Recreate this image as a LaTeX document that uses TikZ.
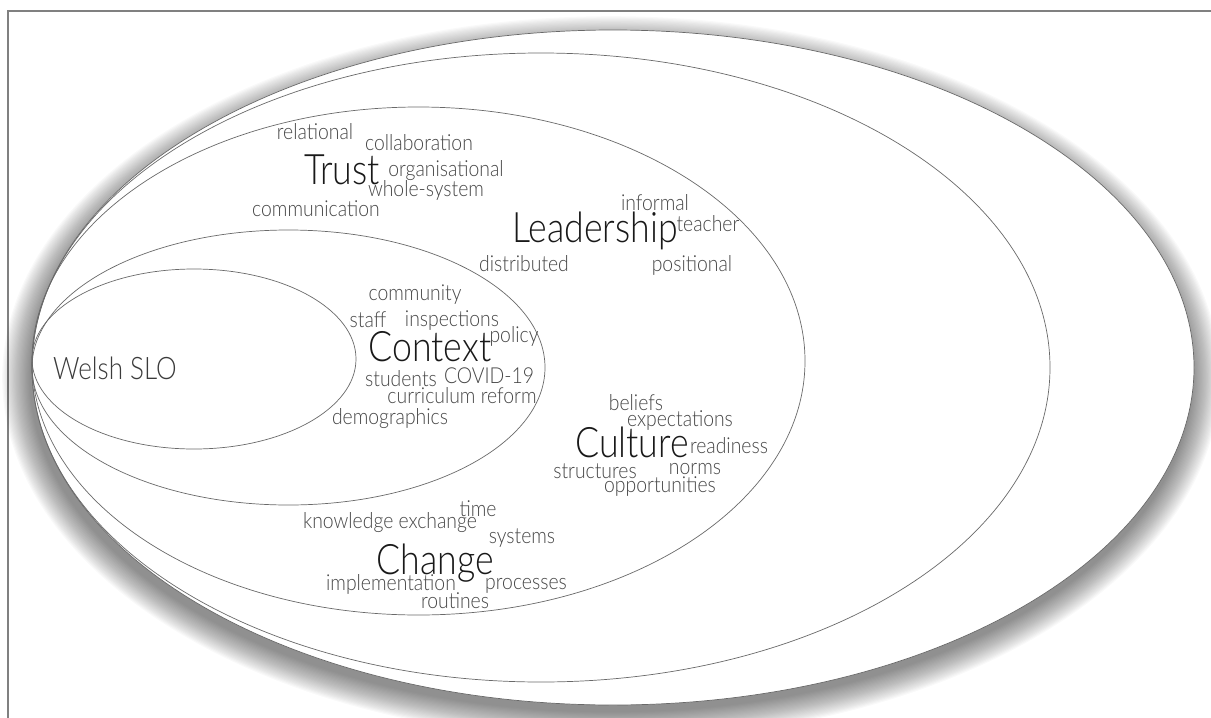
\documentclass[tikz,border=0pt]{standalone}
\usepackage{fontspec}
\setmainfont{TeX Gyre Heros}
\IfFontExistsTF{Lato Light}{%
  \newfontfamily\wordfont{Lato Light}[FakeStretch=0.88]
  \newfontfamily\keyfont{Lato Light}[FakeStretch=0.85]
  \newfontfamily\slofont{Lato Light}[FakeStretch=0.84]
}{%
  \newfontfamily\wordfont{TeX Gyre Heros}[FakeStretch=0.86]
  \newfontfamily\keyfont{TeX Gyre Heros}[FakeStretch=0.76]
  \newfontfamily\slofont{TeX Gyre Heros}[FakeStretch=0.84]
}
\definecolor{linegray}{RGB}{105,105,105}
\definecolor{wordgray}{RGB}{70,70,70}
\definecolor{keygray}{RGB}{25,25,25}
\begin{document}
\begin{tikzpicture}[x=1pt,y=-1pt]
            \tikzstyle{ring}=[draw=linegray,line width=0.7pt]
            \tikzstyle{word}=[inner sep=0pt,text=wordgray,font=\wordfont\fontsize{22}{24}\selectfont]
            \tikzstyle{key word}=[inner sep=0pt,text=keygray,font=\keyfont\fontsize{42}{44}\selectfont]
            \tikzstyle{slo word}=[inner sep=0pt,text=keygray!85,font=\slofont\fontsize{31}{33}\selectfont]

            \useasboundingbox (0,0) rectangle (1211,718);
            \draw[draw=gray,line width=1.8pt] (8,718) -- (8,11) -- (1211,11);

            % halo round the outer ring
            \foreach \k in {1,...,24}
            \fill[black,opacity=0.022] (611,378) ellipse [x radius=580pt+\k*1.2pt, y radius=333pt+\k*1.2pt];
            \fill[white] (613,367.5) ellipse [x radius=581pt, y radius=337.5pt];

            % rings
            \draw[ring] (613,367.5) ellipse [x radius=581pt, y radius=337.5pt];
            \draw[ring] (541,367.5) ellipse [x radius=509pt, y radius=314.5pt];
            \draw[ring] (418.5,361) ellipse [x radius=386.5pt, y radius=254pt];
            \draw[ring] (288.5,367.5) ellipse [x radius=256.5pt, y radius=137.5pt];
            \draw[ring] (194,359) ellipse [x radius=162pt, y radius=90pt];

            \node[slo word] (slo) at (115,368) {Welsh SLO};

            % trust
            \node[key word] (trust) at (342,170) {Trust};
            \node[word] (relational) at (315,132) {relational};
            \node[word] (collaboration) at (419,143) {collaboration};
            \node[word] (organisational) at (446,171) {organisational};
            \node[word] (wholesystem) at (426,190) {whole-system};
            \node[word] (communication) at (316,209) {communication};

            % leadership
            \node[key word] (leadership) at (595,231) {Leadership};
            \node[word] (informal) at (655,203) {informal};
            \node[word] (teacher) at (708,224) {teacher};
            \node[word] (distributed) at (524,264) {distributed};
            \node[word] (positional) at (692,265) {positional};

            % context
            \node[key word] (context) at (430,347) {Context};
            \node[word] (community) at (415,295) {community};
            \node[word] (staff) at (368,320) {staff};
            \node[word] (inspections) at (452,321) {inspections};
            \node[word] (policy) at (514,336) {policy};
            \node[word] (students) at (401,379) {students};
            \node[word] (covid) at (489,376) {COVID-19};
            \node[word] (curriculum) at (462,396) {curriculum reform};
            \node[word] (demographics) at (390,419) {demographics};

            % culture
            \node[key word] (culture) at (632,442) {Culture};
            \node[word] (beliefs) at (636,403) {beliefs};
            \node[word] (expectations) at (680,421) {expectations};
            \node[word] (readiness) at (729,446) {readiness};
            \node[word] (structures) at (595,471) {structures};
            \node[word] (norms) at (695,469) {norms};
            \node[word] (opportunities) at (660,487) {opportunities};

            % change
            \node[key word] (change) at (435,563) {Change};
            \node[word] (time) at (478,509) {time};
            \node[word] (knowledge) at (390,523) {knowledge exchange};
            \node[word] (systems) at (522,538) {systems};
            \node[word] (implementation) at (391,584) {implementation};
            \node[word] (processes) at (526,586) {processes};
            \node[word] (routines) at (455,601) {routines};
\end{tikzpicture}
\end{document}
